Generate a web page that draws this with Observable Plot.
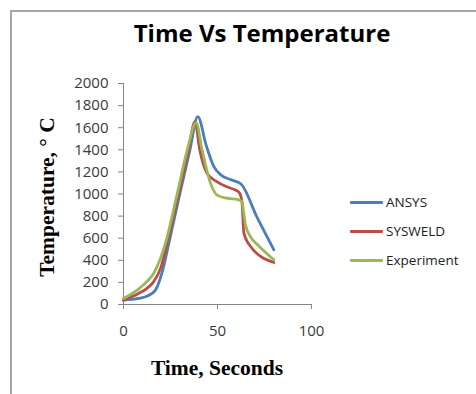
<!DOCTYPE html>
<html>
<head>
<meta charset="utf-8">
<script src="https://cdn.jsdelivr.net/npm/d3@7"></script>
<script src="https://cdn.jsdelivr.net/npm/@observablehq/plot@0.6"></script>
<style>
  html, body { margin: 0; padding: 0; background: #fff; }
  #wrap { position: relative; width: 476px; height: 394px; overflow: hidden; background: #fff; }
  #frame { position: absolute; left: 10px; top: 10px; width: 480px; height: 400px;
           border-top: 2px solid #a6a6a6; border-left: 2px solid #a6a6a6; box-sizing: border-box; }
  #chart { position: absolute; left: 0; top: 0; }
  #title { position: absolute; left: 0; width: 524px; top: 16px; text-align: center;
           font: bold 24px "Open Sans", sans-serif; color: #000; }
  #ytitle { position: absolute; left: 47px; top: 197px; transform: translate(-50%, -50%) rotate(-90deg);
            white-space: nowrap; font: bold 21.5px "Liberation Serif", serif; color: #000; }
  #xtitle { position: absolute; left: 217px; top: 368px; transform: translate(-50%, -50%);
            white-space: nowrap; font: bold 21.5px "Liberation Serif", serif; color: #000; }
  .leg { position: absolute; left: 350px; height: 20px; display: flex; align-items: center;
         transform: translateY(-50%); font: 13.5px "Open Sans", sans-serif; color: #222; }
  .sw { width: 33px; height: 3px; margin-right: 3px; border-radius: 1px; }
</style>
</head>
<body>
<div id="wrap">
  <div id="frame"></div>
  <div id="chart"></div>
  <div id="title"></div>
  <div id="ytitle"></div>
  <div id="xtitle"></div>
</div>
<script>
const titleText = "Time Vs Temperature";
const xTitle = "Time, Seconds";
const yTitle = "Temperature, \u00B0 C";
const seriesNames = ["ANSYS", "SYSWELD", "Experiment"];
const seriesColors = ["#4A7EBB", "#BE4B48", "#98B954"];
const xTicks = [0, 50, 100];
const yTicks = [0, 200, 400, 600, 800, 1000, 1200, 1400, 1600, 1800, 2000];

const ansysTime = [0, 8, 13, 17, 21, 24.1, 30, 35.3, 39.5, 44, 48, 52, 57, 62.5, 71, 80];
const ansysTemp = [40, 55, 80, 130, 320, 553, 1005, 1397, 1700, 1440, 1250, 1170, 1130, 1090, 790, 495];

const sysweldTime = [0, 8, 12, 16, 20, 23.2, 29.3, 34.6, 38, 40.6, 44.5, 49.8, 55, 59, 61.5, 63, 64, 67.6, 80];
const sysweldTemp = [40, 100, 140, 205, 340, 553, 1005, 1397, 1655, 1397, 1186, 1110, 1065, 1040, 1015, 930, 650, 525, 380];

const expTime = [0, 8, 12, 16, 19.5, 22.3, 28.6, 33.9, 38.6, 41.8, 46.3, 49.8, 55, 61, 63, 64, 64.9, 67.5, 72, 80];
const expTemp = [55, 140, 200, 281, 410, 553, 1005, 1397, 1645, 1400, 1096, 990, 962, 950, 930, 820, 718, 615, 530, 405];

const seriesTimes = [ansysTime, sysweldTime, expTime];
const seriesTemps = [ansysTemp, sysweldTemp, expTemp];

const rows = [];
seriesNames.forEach((name, i) => {
  seriesTimes[i].forEach((t, j) => rows.push({series: name, time: t, temp: seriesTemps[i][j]}));
});

const axisColor = "#868686";

const chart = Plot.plot({
  width: 476,
  height: 394,
  marginLeft: 123,
  marginRight: 165,
  marginTop: 83,
  marginBottom: 90,
  style: {fontFamily: "'Open Sans', sans-serif", fontSize: "15px", color: "#3a3a3a", background: "transparent"},
  x: {domain: [0, 100]},
  y: {domain: [0, 2000]},
  color: {domain: seriesNames, range: seriesColors},
  marks: [
    Plot.axisY({ticks: yTicks, tickSize: 5, tickPadding: 10, label: null, stroke: axisColor, tickFormat: d => String(d)}),
    Plot.axisX({ticks: xTicks, tickSize: 5, tickPadding: 16, label: null, stroke: axisColor, tickFormat: d => String(d)}),
    Plot.ruleX([0], {stroke: axisColor, strokeWidth: 1}),
    Plot.ruleY([0], {stroke: axisColor, strokeWidth: 1}),
    Plot.line(rows, {x: "time", y: "temp", z: "series", stroke: "series", strokeWidth: 2.8, curve: "monotone-x"})
  ]
});
document.getElementById("chart").appendChild(chart);
document.getElementById("title").textContent = titleText;
document.getElementById("xtitle").textContent = xTitle;
document.getElementById("ytitle").textContent = yTitle;

const legendY = [202, 231, 260];
const wrap = document.getElementById("wrap");
seriesNames.forEach((name, i) => {
  const d = document.createElement("div");
  d.className = "leg";
  d.style.top = legendY[i] + "px";
  const sw = document.createElement("span");
  sw.className = "sw";
  sw.style.background = seriesColors[i];
  const tx = document.createElement("span");
  tx.textContent = name;
  d.appendChild(sw); d.appendChild(tx);
  wrap.appendChild(d);
});
</script>
</body>
</html>
